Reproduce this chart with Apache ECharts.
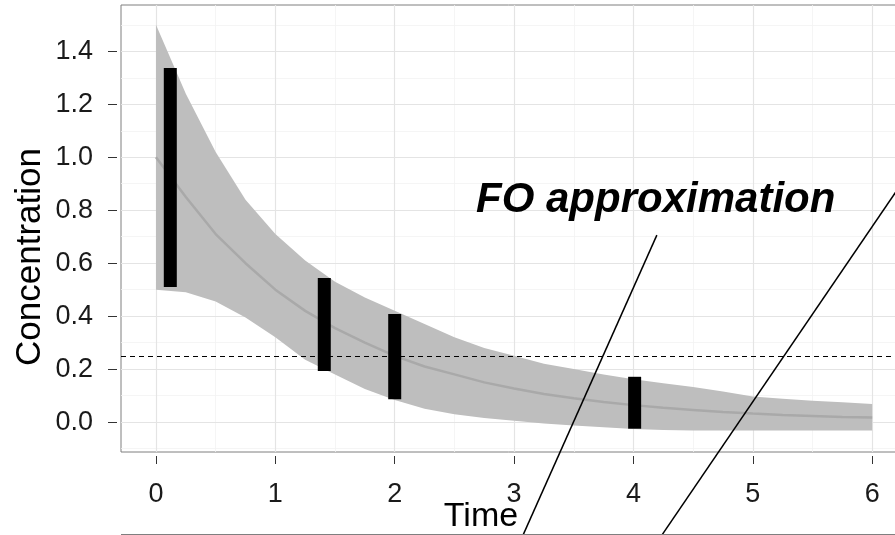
<!DOCTYPE html>
<html>
<head>
<meta charset="utf-8">
<script src="https://cdn.jsdelivr.net/npm/echarts@6/dist/echarts.min.js"></script>
<style>
  html, body { margin: 0; padding: 0; background: #ffffff; }
  #chart { width: 895px; height: 535px; }
</style>
</head>
<body>
<div id="chart"></div>
<script>
// Simulated concentration-time profile: prediction band and median
const times  = [0, 0.25, 0.5, 0.75, 1, 1.25, 1.5, 1.75, 2, 2.25, 2.5, 2.75, 3,
                3.25, 3.5, 3.75, 4, 4.25, 4.5, 4.75, 5, 5.25, 5.5, 5.75, 6];
const upper  = [1.50, 1.24, 1.02, 0.84, 0.71, 0.61, 0.53, 0.47, 0.42, 0.37, 0.32, 0.28, 0.25,
                0.22, 0.20, 0.18, 0.162, 0.147, 0.132, 0.115, 0.097, 0.088, 0.081, 0.075, 0.068];
const median = [1.00, 0.85, 0.71, 0.60, 0.50, 0.42, 0.355, 0.30, 0.25, 0.21, 0.18, 0.15, 0.127,
                0.106, 0.09, 0.076, 0.064, 0.054, 0.046, 0.038, 0.032, 0.027, 0.023, 0.019, 0.017];
const lower  = [0.50, 0.49, 0.455, 0.395, 0.32, 0.235, 0.18, 0.125, 0.083, 0.05, 0.03, 0.015, 0.005,
                -0.005, -0.013, -0.02, -0.026, -0.03, -0.032, -0.032, -0.032, -0.032, -0.032, -0.032, -0.032];

// Observed ranges (vertical bars)
const obsTime = [0.12, 1.41, 2.0, 4.01];
const obsLow  = [0.51, 0.193, 0.086, -0.025];
const obsHigh = [1.337, 0.544, 0.408, 0.171];

// Target concentration
const threshold = 0.25;

// Axis ticks and grid lines
const xTicks = [0, 1, 2, 3, 4, 5, 6];
const xMinor = [0.5, 1.5, 2.5, 3.5, 4.5, 5.5];
const yTicks = [0, 0.2, 0.4, 0.6, 0.8, 1.0, 1.2, 1.4];
const yMinor = [-0.1, 0.1, 0.3, 0.5, 0.7, 0.9, 1.1, 1.3, 1.5];

// Guide strokes (time, concentration) running off the panel
const guideA = [[4.196, 0.706], [3.075, -0.427]];
const guideB = [[6.290, 0.930], [4.238, -0.427]];

const FONT = 'Liberation Sans, Arial, Helvetica, sans-serif';

const bandRows = times.map((t, i) => [t, lower[i], upper[i]]);
const medianPts = times.map((t, i) => [t, median[i]]);
const obsData = obsTime.map((t, i) => [t, obsLow[i], obsHigh[i]]);

const gridLines = [];
xMinor.forEach(v => gridLines.push({ xAxis: v, lineStyle: { color: '#f3f3f3', width: 0.8, type: 'solid' } }));
yMinor.forEach(v => gridLines.push({ yAxis: v, lineStyle: { color: '#f3f3f3', width: 0.8, type: 'solid' } }));
xTicks.forEach(v => gridLines.push({ xAxis: v, lineStyle: { color: '#e4e4e4', width: 1.2, type: 'solid' } }));
yTicks.forEach(v => gridLines.push({ yAxis: v, lineStyle: { color: '#e4e4e4', width: 1.2, type: 'solid' } }));

const chart = echarts.init(document.getElementById('chart'), null, { renderer: 'canvas' });

chart.setOption({
  animation: false,
  backgroundColor: '#ffffff',
  grid: {
    left: 121, top: 5, right: -13, bottom: 83,
    show: true, borderColor: '#7f7f7f', borderWidth: 1, backgroundColor: 'transparent',
    containLabel: false, outerBoundsMode: 'none'
  },
  xAxis: {
    type: 'value', min: -0.293, max: 6.3, offset: 4, position: 'bottom',
    axisLine: { show: false, onZero: false },
    splitLine: { show: false },
    axisTick: { show: true, length: 8, customValues: xTicks, lineStyle: { color: '#333333', width: 1 } },
    axisLabel: { customValues: xTicks, margin: 25, fontSize: 27, color: '#1a1a1a', fontFamily: FONT,
                 formatter: v => String(v) }
  },
  yAxis: {
    type: 'value', min: -0.113, max: 1.575, offset: 4, position: 'left',
    axisLine: { show: false, onZero: false },
    splitLine: { show: false },
    axisTick: { show: true, length: 9, customValues: yTicks, lineStyle: { color: '#333333', width: 1 } },
    axisLabel: { customValues: yTicks, margin: 24, fontSize: 27, color: '#1a1a1a', fontFamily: FONT,
                 formatter: v => v.toFixed(1) }
  },
  series: [
    {
      name: 'grid', type: 'line', data: [], silent: true, z: 0,
      markLine: { silent: true, z: 0, symbol: ['none', 'none'], label: { show: false },
                  animation: false, data: gridLines }
    },
    {
      // prediction band drawn as a single polygon: lower edge forward, upper edge back
      name: 'band', type: 'custom', data: bandRows, silent: true, z: 1,
      renderItem: function (params, api) {
        if (params.dataIndex !== 0) return null;
        const pts = [];
        bandRows.forEach(r => pts.push(api.coord([r[0], r[1]])));
        for (let i = bandRows.length - 1; i >= 0; i--) pts.push(api.coord([bandRows[i][0], bandRows[i][2]]));
        return { type: 'polygon', shape: { points: pts }, style: { fill: '#bebebe' } };
      }
    },
    {
      name: 'median', type: 'line', data: medianPts, symbol: 'none', silent: true, z: 2,
      lineStyle: { color: '#a9a9a9', width: 2.5 }
    },
    {
      name: 'threshold', type: 'line', data: [], silent: true, z: 3,
      markLine: { silent: true, z: 3, symbol: ['none', 'none'], label: { show: false }, animation: false,
                  lineStyle: { color: '#000000', width: 1.1, type: [5, 4] },
                  data: [{ yAxis: threshold }] }
    },
    {
      name: 'observed', type: 'custom', data: obsData, z: 4, silent: true,
      renderItem: function (params, api) {
        const top = api.coord([api.value(0), api.value(2)]);
        const bot = api.coord([api.value(0), api.value(1)]);
        const w = 13;
        return {
          type: 'rect',
          shape: { x: top[0] - w / 2, y: top[1], width: w, height: bot[1] - top[1] },
          style: { fill: '#000000' }
        };
      }
    },
    {
      name: 'guideA', type: 'line', data: guideA, clip: false, symbol: 'none', silent: true, z: 5,
      lineStyle: { color: '#000000', width: 1.5 }
    },
    {
      name: 'guideB', type: 'line', data: guideB, clip: false, symbol: 'none', silent: true, z: 5,
      lineStyle: { color: '#000000', width: 1.5 }
    }
  ],
  graphic: [
    {
      type: 'text', x: 476, y: 200, z: 10,
      style: { text: 'FO approximation', font: 'italic bold 42px ' + FONT, fill: '#000000',
               verticalAlign: 'middle', align: 'left' }
    },
    {
      type: 'text', x: 481, y: 517, z: 10,
      style: { text: 'Time', font: '34px ' + FONT, fill: '#000000', verticalAlign: 'middle', align: 'center' }
    },
    {
      type: 'text', x: 30, y: 257, rotation: Math.PI / 2, z: 10,
      style: { text: 'Concentration', font: '35px ' + FONT, fill: '#000000', verticalAlign: 'middle', align: 'center' }
    },
    {
      type: 'line', z: 10,
      shape: { x1: 121, y1: 534.5, x2: 895, y2: 534.5 },
      style: { stroke: '#7f7f7f', lineWidth: 1 }
    }
  ]
});
</script>
</body>
</html>
